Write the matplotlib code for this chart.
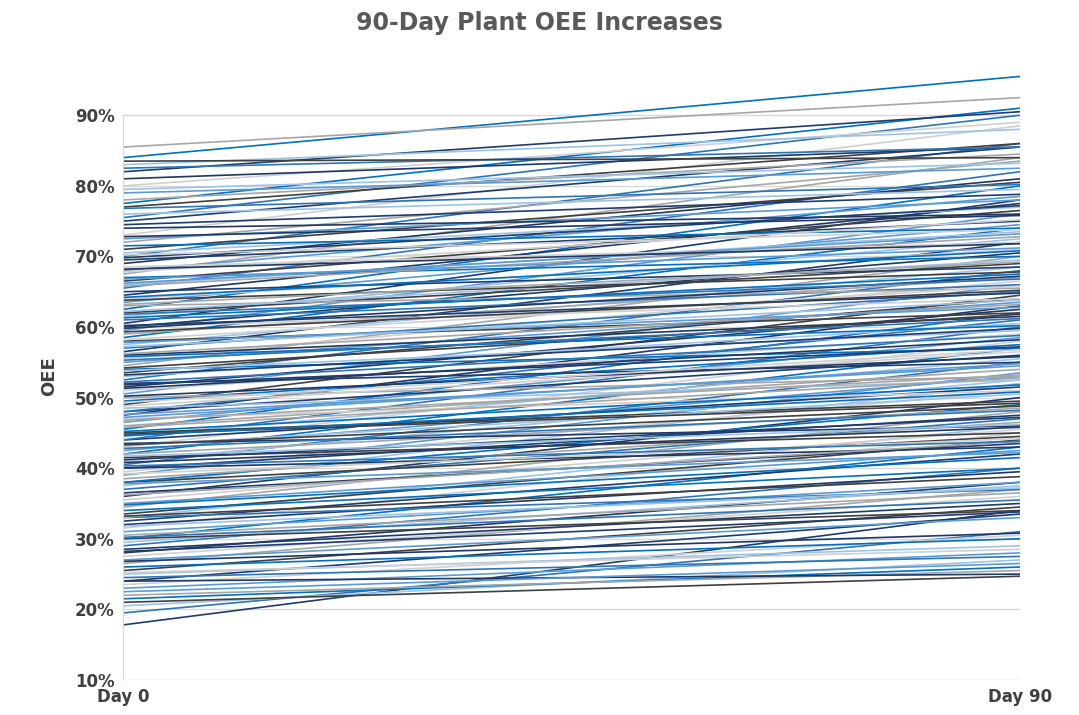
import matplotlib.pyplot as plt
from matplotlib.ticker import FuncFormatter

day0 = [17.8, 19.5, 20.5, 21.0, 21.5, 22.0, 23.0, 23.5, 24.0, 24.0,
        24.5, 25.0, 25.5, 26.0, 26.5, 27.0, 27.5, 28.0, 28.5, 29.0,
        29.5, 30.0, 30.0, 30.5, 31.0, 31.5, 32.0, 32.5, 33.0, 33.0,
        33.5, 34.0, 34.5, 35.0, 35.5, 36.0, 36.5, 37.0, 37.5, 38.0,
        38.0, 38.5, 39.0, 39.5, 40.0, 40.0, 40.5, 41.0, 41.5, 42.0,
        42.0, 42.5, 43.0, 43.5, 44.0, 44.0, 44.5, 45.0, 45.5, 46.0,
        46.5, 47.0, 47.5, 48.0, 48.0, 48.5, 49.0, 49.5, 50.0, 50.5,
        51.0, 51.5, 52.0, 52.5, 53.0, 53.5, 54.0, 54.5, 55.0, 55.5,
        56.0, 56.5, 57.0, 57.5, 58.0, 58.5, 59.0, 59.5, 60.0, 60.0,
        60.5, 61.0, 61.5, 62.0, 62.5, 63.0, 63.5, 64.0, 64.5, 65.0,
        65.5, 66.0, 66.5, 67.0, 67.5, 68.0, 68.5, 69.0, 69.5, 70.0,
        70.5, 71.0, 71.5, 72.0, 72.5, 73.0, 74.0, 75.0, 75.5, 76.0,
        77.0, 77.5, 78.0, 79.0, 80.0, 81.0, 82.0, 82.5, 83.0, 83.5,
        84.0, 85.5,
        22.5, 25.2, 26.8, 28.2, 30.2, 31.8, 33.2, 34.8, 36.2, 37.8,
        39.2, 40.8, 41.2, 42.8, 43.2, 44.8, 45.2, 46.8, 47.2, 48.8,
        50.2, 51.8, 52.2, 53.8, 54.2, 55.8, 56.2, 57.8, 58.2, 59.8,
        60.2, 61.8, 62.2, 63.8, 64.2, 65.8, 66.2, 67.8, 68.2, 69.8,
        40.3, 41.7, 43.3, 44.6, 45.8, 47.6, 49.3, 51.3, 53.2, 55.3,
        57.2, 59.3, 61.3, 63.2, 66.8, 70.2, 72.8, 74.5, 76.8, 79.5]
day90 = [34.0, 31.0, 27.0, 24.7, 26.0, 25.5, 28.0, 30.5, 25.0, 33.5,
         27.5, 29.0, 34.5, 30.0, 37.0, 33.0, 36.0, 38.0, 35.0, 40.0,
         37.5, 34.0, 43.0, 36.5, 38.0, 45.0, 39.5, 42.0, 37.0, 46.0,
         44.0, 40.0, 48.0, 42.5, 45.5, 50.0, 43.5, 47.0, 52.0, 44.5,
         49.0, 46.5, 53.5, 51.0, 43.0, 47.5, 55.0, 52.5, 45.0, 57.0,
         48.5, 53.0, 58.0, 46.0, 51.5, 60.0, 55.5, 49.5, 62.0, 54.0,
         58.5, 51.0, 63.0, 56.0, 61.0, 52.5, 64.5, 57.5, 53.0, 66.0,
         59.0, 62.5, 55.0, 68.0, 60.5, 64.0, 57.0, 70.0, 63.5, 66.5,
         61.5, 72.0, 65.0, 68.5, 62.0, 74.0, 67.0, 76.0, 64.0, 70.5,
         78.0, 66.0, 72.5, 69.0, 80.0, 65.5, 74.5, 71.0, 77.5, 68.5,
         82.0, 73.5, 76.5, 70.0, 84.0, 78.5, 72.0, 81.0, 75.0, 86.0,
         77.0, 80.5, 74.0, 83.5, 78.0, 88.5, 76.0, 85.5, 90.0, 79.5,
         86.0, 91.0, 84.5, 82.5, 89.0, 85.5, 90.5, 85.5, 88.0, 84.0,
         95.5, 92.5,
         26.5, 28.5, 30.8, 33.8, 35.5, 37.2, 38.8, 41.5, 43.8, 42.2,
         44.2, 45.8, 47.2, 48.2, 50.5, 49.2, 51.8, 53.2, 54.8, 56.5,
         55.8, 57.2, 58.8, 59.5, 61.8, 60.2, 63.2, 62.8, 65.8, 67.2,
         64.8, 66.8, 69.5, 67.8, 70.8, 72.8, 73.2, 75.2, 71.8, 77.2,
         43.8, 46.2, 48.8, 50.8, 52.8, 54.5, 56.8, 58.2, 59.8, 61.2,
         63.8, 65.2, 67.5, 69.2, 71.2, 73.8, 75.8, 78.8, 80.2, 83.2]
x_labels = ["Day 0", "Day 90"]

palette = ["#1f3c6e", "#2e75b6", "#9dc3e6", "#404040", "#0070c0",
           "#a6a6a6", "#5b9bd5", "#d0d0d0", "#203864"]

fig = plt.figure(figsize=(10.79, 7.15), dpi=100)
ax = fig.add_axes([0.114, 0.049, 0.831, 0.849])
for i, (a, b) in enumerate(zip(day0, day90)):
    ax.plot([0, 90], [a, b], color=palette[i % len(palette)], lw=1.2)

ax.set_xlim(0, 90)
ax.set_ylim(10, 96)
ax.set_yticks(range(10, 100, 10))
ax.yaxis.set_major_formatter(FuncFormatter(lambda v, p: f"{v:.0f}%"))
ax.set_xticks([0, 90])
ax.set_xticklabels(x_labels)
ax.grid(axis="y", color="#d9d9d9", lw=1)
ax.set_axisbelow(True)
for s in ["top", "right", "bottom"]:
    ax.spines[s].set_visible(False)
ax.spines["left"].set_color("#d9d9d9")
ax.spines["left"].set_bounds(10, 90)
ax.tick_params(length=0, labelsize=12, labelcolor="#404040", pad=6)
for t in ax.get_xticklabels() + ax.get_yticklabels():
    t.set_fontweight("bold")
ax.set_ylabel("OEE", fontsize=13, fontweight="bold", color="#404040", labelpad=12)
fig.suptitle("90-Day Plant OEE Increases", fontsize=17, fontweight="bold",
             color="#595959", y=0.985)
fig.savefig("out.png")
